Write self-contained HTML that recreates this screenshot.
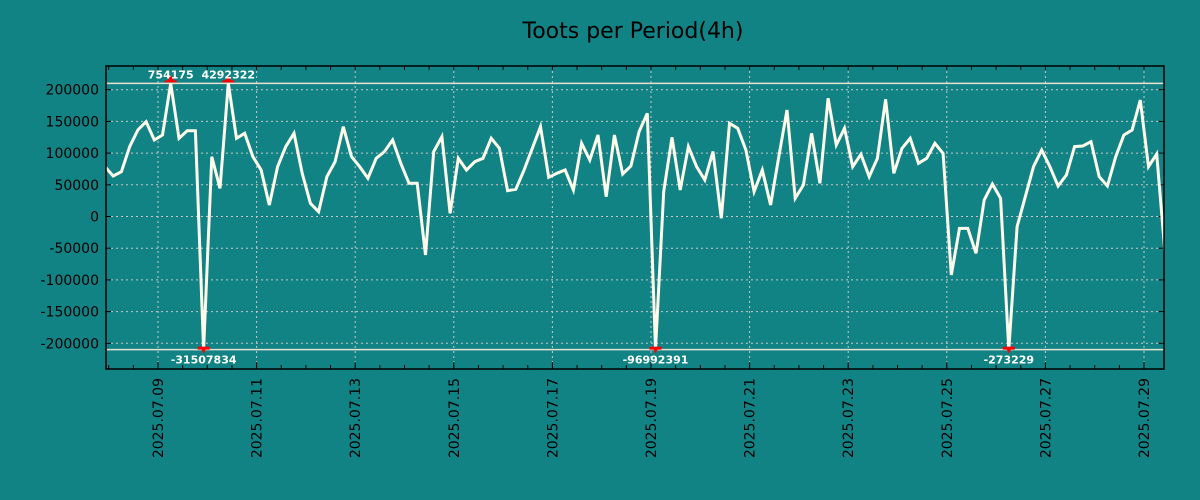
<!DOCTYPE html>
<html><head><meta charset="utf-8"><style>
body{margin:0;background:#118385;}
svg{display:block;font-family:"DejaVu Sans","Liberation Sans",sans-serif;}
</style></head><body>
<svg id="chart" width="1200" height="500">
<rect width="1200" height="500" fill="#118385"/>
<text x="633" y="38" text-anchor="middle" font-size="22" fill="#000">Toots per Period(4h)</text>
<g id="grid"></g><g id="axes"></g><g id="series"></g><g id="marks"></g>
<rect x="106" y="66" width="1058" height="303" fill="none" stroke="#000" stroke-width="1.5"/>
</svg>
<script>
const values = [78600,63900,70700,110200,136400,149600,120700,128600,754175,123300,135400,135400,-31507834,94400,44400,4292322,123300,131200,94400,73400,18100,78600,110200,131200,68100,20800,7600,62800,86500,141700,94400,78600,60200,91800,
102300,120700,83900,52300,52300,-60700,102300,125900,5000,91800,73400,86500,91800,123300,107600,40700,42900,73400,107600,141700,61800,68100,73400,41800,115400,89100,128600,31300,128600,67000,79600,133800,162700,
-96992391,39200,124900,41800,110200,78600,57600,102300,-2900,147000,139100,104900,39200,73400,18100,94400,168000,28700,49700,131200,52300,186400,112800,139100,78600,98100,62800,91800,184800,68100,107600,123300,83900,
91800,115400,99600,-92300,-18700,-18700,-58100,26000,51300,28700,-273229,-16000,31300,78600,104900,78600,48100,65500,110200,111200,118000,62800,48100,94400,128600,136400,183800,78600,98600,-58100];
const startHour = -1.8;
const periodHours = 4;
const yTicks = [200000,150000,100000,50000,0,-50000,-100000,-150000,-200000];
const xTickLabels = ["2025.07.09","2025.07.11","2025.07.13","2025.07.15","2025.07.17","2025.07.19","2025.07.21","2025.07.23","2025.07.25","2025.07.27","2025.07.29"];
const clipMax = 210000, clipMin = -210000;

const NS="http://www.w3.org/2000/svg";
const L=106,R=1164,T=66,B=369;
function xH(h){return 108.7+h*49.3/24;}
function yV(v){return 216.5-v*31.7/50000;}
function mk(tag,attrs,parent){const e=document.createElementNS(NS,tag);for(const k in attrs)e.setAttribute(k,attrs[k]);parent.appendChild(e);return e;}
const grid=document.getElementById('grid'),axes=document.getElementById('axes'),series=document.getElementById('series'),marks=document.getElementById('marks');

yTicks.forEach(v=>{const y=yV(v);
 const g=mk('line',{x1:L,x2:R,y1:y,y2:y,stroke:'#c8c8c8','stroke-dasharray':'2,3','stroke-width':1},grid);
 
 
 mk('line',{x1:L,x2:L+5,y1:y,y2:y,stroke:'#000'},axes);
 mk('line',{x1:R-5,x2:R,y1:y,y2:y,stroke:'#000'},axes);
 const t=mk('text',{x:99,y:y+5,'text-anchor':'end','font-size':14,fill:'#000'},axes);
 t.textContent=String(v);
 
 
});
for(let d=0;d<=43;d++){const x=xH(d*12);if(x<L||x>R)continue;
 mk('line',{x1:x,x2:x,y1:B,y2:B-4,stroke:'#000'},axes);
 mk('line',{x1:x,x2:x,y1:T,y2:T+4,stroke:'#000'},axes);}
xTickLabels.forEach((lab,i)=>{const x=xH(24+i*48);
 const g=mk('line',{x1:x,x2:x,y1:T,y2:B,stroke:'#c8c8c8','stroke-dasharray':'2,3','stroke-width':1},grid);
 
 
 mk('line',{x1:x,x2:x,y1:B,y2:B-7,stroke:'#000'},axes);
 const t=mk('text',{x:0,y:0,'text-anchor':'end','font-size':14,fill:'#000',transform:`translate(${x+5},${378}) rotate(-90)`},axes);
 t.textContent=lab;
 
 
});
[clipMax,clipMin].forEach(v=>{const y=yV(v);
 const c=mk('line',{x1:L,x2:R,y1:y,y2:y,stroke:'#e8e0d0','stroke-width':1.5},grid);
 
 });

const clipPath=mk('clipPath',{id:'pc'},series);mk('rect',{x:L,y:T,width:R-L,height:B-T},clipPath);
const pts=values.map((v,i)=>{const cv=Math.max(clipMin,Math.min(clipMax,v));return [xH(startHour+i*periodHours),yV(cv)];});
const line=mk('polyline',{points:pts.map(p=>p[0].toFixed(1)+','+p[1].toFixed(1)).join(' '),fill:'none',stroke:'#fffbea','stroke-width':3,'stroke-linejoin':'miter','clip-path':'url(#pc)'},series);



values.forEach((v,i)=>{if(v<=clipMax&&v>=clipMin)return;const x=xH(startHour+i*periodHours);
 if(v>clipMax){const y=yV(clipMax);
  const m=mk('path',{d:`M${x-6},${y-1}h12v-2l-3,0l-3,-5l-3,5l-3,0z`,fill:'#f00'},marks);
  
  
  const t=mk('text',{x:x,y:y-5,'text-anchor':'middle','font-size':11,'font-weight':'bold',fill:'#fff'},marks);
  t.textContent=String(v);
  
  
 } else {const y=yV(clipMin);
  const m=mk('path',{d:`M${x-6},${y-3}h12v3l-4,0l-2,4l-2,-4l-4,0z`,fill:'#f00'},marks);
  
  
  const t=mk('text',{x:x,y:y+14,'text-anchor':'middle','font-size':11,'font-weight':'bold',fill:'#fff'},marks);
  t.textContent=String(v);
  
  
 }
});
</script>
</body></html>
